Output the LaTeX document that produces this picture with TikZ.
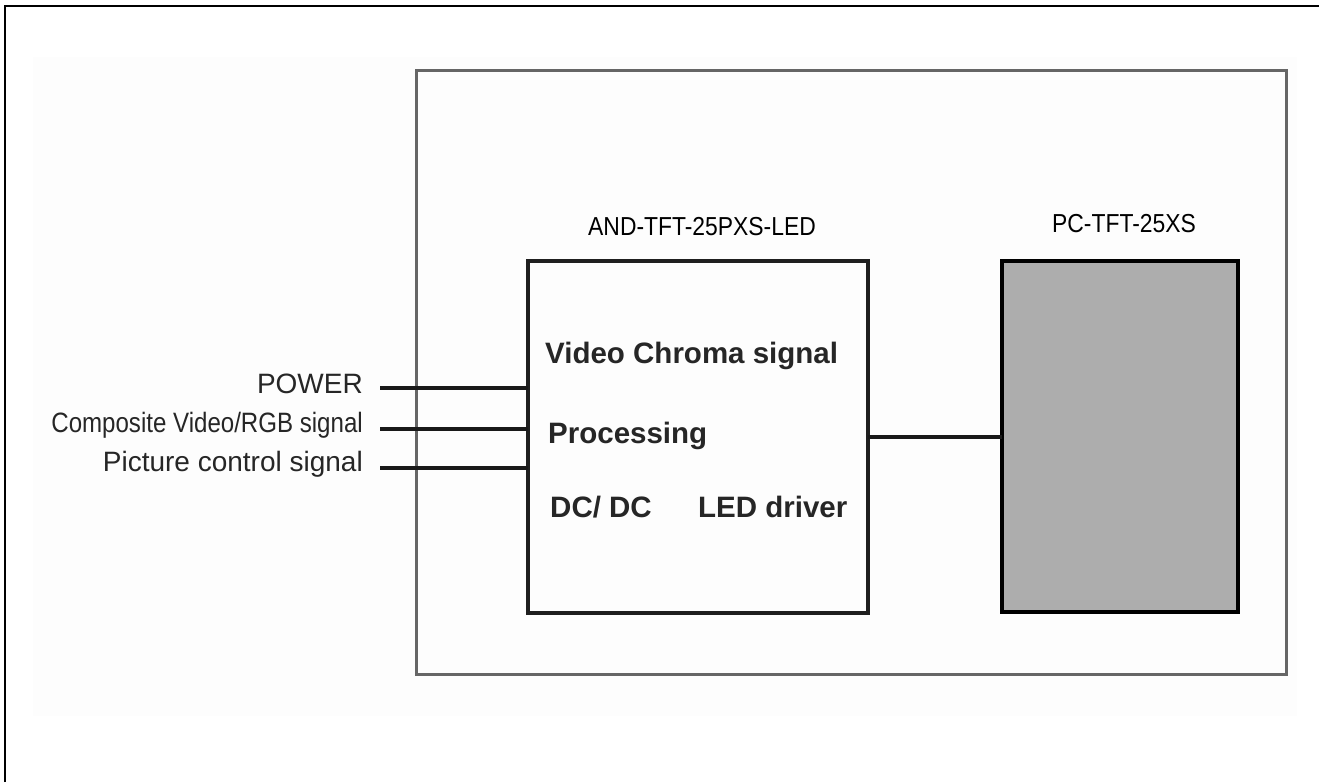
\documentclass[tikz,border=0pt]{standalone}
\usepackage{fontspec}
\setmainfont{Liberation Sans}
\newfontfamily\narrowfont[FakeStretch=0.88]{Liberation Sans}
\newfontfamily\compfont[FakeStretch=0.86]{Liberation Sans}
\begin{document}
\begin{tikzpicture}[x=1pt,y=-1pt,
  wire/.style={draw=black!90, line width=3.5pt},
  title/.style={font=\narrowfont\fontsize{26}{28}\selectfont, anchor=base, inner sep=0pt},
  inlabel/.style={font=\bfseries\fontsize{29.5}{32}\selectfont, text=black!85, anchor=base west, inner sep=0pt},
  sidelabel/.style={font=\fontsize{28}{30}\selectfont, text=black!85, anchor=base east, inner sep=0pt}]
\useasboundingbox (0,0) rectangle (1319,782);
% faint background and frame
\fill[black!0.6] (33,57) rectangle (1297,716);
\draw[line width=2.5pt, black] (5,782) -- (5,6) -- (1319,6);
% outer gray enclosure
\draw[line width=3pt, black!60] (416,70) rectangle (1286,674);
% blocks
\node[draw=black!88, line width=4pt, inner sep=0pt, outer sep=0pt, minimum width=340pt, minimum height=352pt, anchor=north west] (and) at (528,261) {};
\node[draw=black, fill=black!32, line width=4pt, inner sep=0pt, outer sep=0pt, minimum width=236pt, minimum height=351pt, anchor=north west] (pc) at (1002,261) {};
% titles
\node[title] (andt) at (702,235) {AND-TFT-25PXS-LED};
\node[title] (pct) at (1124,232) {PC-TFT-25XS};
% inner texts
\node[inlabel] (vcs) at (545,363) {Video Chroma signal};
\node[inlabel] (proc) at (548,443) {Processing};
\node[inlabel] (dcdc) at (550,517) {DC/ DC};
\node[inlabel] (led) at (698,517) {LED driver};
% side labels
\node[sidelabel] (pw) at (363,393) {POWER};
\node[sidelabel, font=\compfont\fontsize{28}{30}\selectfont] (cv) at (363,432) {Composite Video/RGB signal};
\node[sidelabel] (pcs) at (363,471) {Picture control signal};
% input wires
\coordinate (pwin) at (380,388);
\coordinate (cvin) at (380,429);
\coordinate (pcsin) at (380,468);
\draw[wire] (pwin) -- (pwin -| and.west);
\draw[wire] (cvin) -- (cvin -| and.west);
\draw[wire] (pcsin) -- (pcsin -| and.west);
% link
\coordinate (lk) at (0,437);
\draw[wire, line width=4pt] (lk -| and.east) -- (lk -| pc.west);
\end{tikzpicture}
\end{document}
